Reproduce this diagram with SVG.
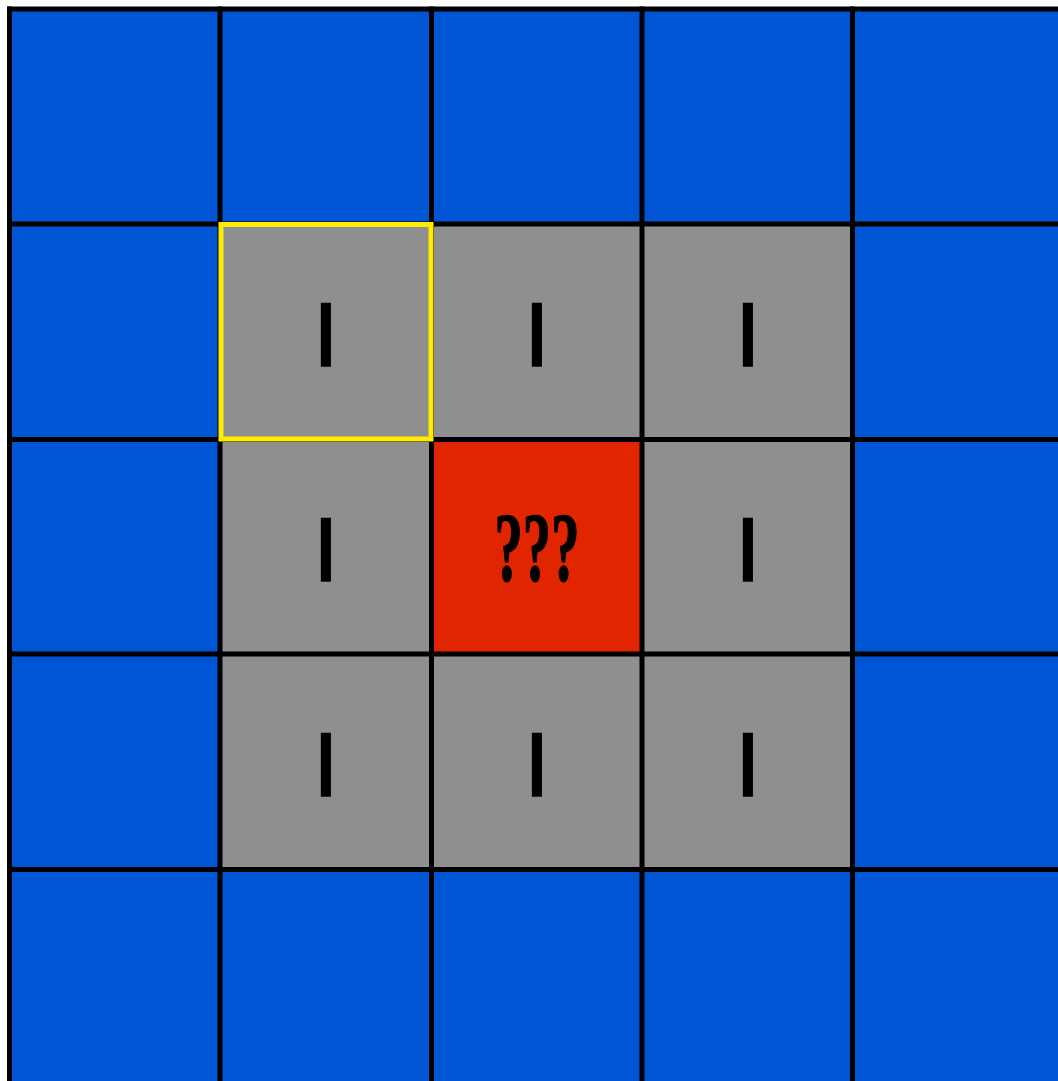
<svg xmlns="http://www.w3.org/2000/svg" width="1058" height="1081" viewBox="0 0 1058 1081">
<style>
.blue{fill:#0055d5}
.gray{fill:#8f8f8f}
.red{fill:#e12500}
.grid line{stroke:#000;stroke-width:5}
.bar{font-family:"Liberation Sans",Arial,sans-serif;font-weight:normal;font-size:91px;fill:#000;stroke:#000;stroke-width:1.6;text-anchor:middle}
.q{font-family:"Liberation Serif","Times New Roman",serif;font-weight:bold;font-size:97px;fill:#000;stroke:#000;stroke-width:1.5;text-anchor:middle}
</style>
<rect width="1058" height="1081" fill="#fff"/>
<g id="row1">
<rect class="blue" x="9.5" y="9" width="211" height="215"/>
<rect class="blue" x="220" y="9" width="211" height="215"/>
<rect class="blue" x="431" y="9" width="211" height="215"/>
<rect class="blue" x="642" y="9" width="211" height="215"/>
<rect class="blue" x="853" y="9" width="211" height="215"/>
</g>
<g id="row2">
<rect class="blue" x="9.5" y="224" width="211" height="215"/>
<g id="cell-r2c2"><rect class="gray" x="220" y="224" width="211" height="215"/><text class="bar" x="326" y="365.5">I</text></g>
<g id="cell-r2c3"><rect class="gray" x="431" y="224" width="211" height="215"/><text class="bar" x="537" y="365.5">I</text></g>
<g id="cell-r2c4"><rect class="gray" x="642" y="224" width="211" height="215"/><text class="bar" x="748" y="365.5">I</text></g>
<rect class="blue" x="853" y="224" width="211" height="215"/>
</g>
<g id="row3">
<rect class="blue" x="9.5" y="439" width="211" height="215"/>
<g id="cell-r3c2"><rect class="gray" x="220" y="439" width="211" height="215"/><text class="bar" x="326" y="580.5">I</text></g>
<g id="cell-center"><rect class="red" x="431" y="439" width="211" height="215"/><text class="q" x="537" y="580" textLength="85" lengthAdjust="spacingAndGlyphs">???</text></g>
<g id="cell-r3c4"><rect class="gray" x="642" y="439" width="211" height="215"/><text class="bar" x="748" y="580.5">I</text></g>
<rect class="blue" x="853" y="439" width="211" height="215"/>
</g>
<g id="row4">
<rect class="blue" x="9.5" y="654" width="211" height="215"/>
<g id="cell-r4c2"><rect class="gray" x="220" y="654" width="211" height="215"/><text class="bar" x="326" y="795.5">I</text></g>
<g id="cell-r4c3"><rect class="gray" x="431" y="654" width="211" height="215"/><text class="bar" x="537" y="795.5">I</text></g>
<g id="cell-r4c4"><rect class="gray" x="642" y="654" width="211" height="215"/><text class="bar" x="748" y="795.5">I</text></g>
<rect class="blue" x="853" y="654" width="211" height="215"/>
</g>
<g id="row5">
<rect class="blue" x="9.5" y="869" width="211" height="215"/>
<rect class="blue" x="220" y="869" width="211" height="215"/>
<rect class="blue" x="431" y="869" width="211" height="215"/>
<rect class="blue" x="642" y="869" width="211" height="215"/>
<rect class="blue" x="853" y="869" width="211" height="215"/>
</g>
<g class="grid" id="grid">
<line x1="9.5" y1="6.5" x2="9.5" y2="1081"/>
<line x1="220" y1="6.5" x2="220" y2="1081"/>
<line x1="431.5" y1="6.5" x2="431.5" y2="1081"/>
<line x1="642" y1="6.5" x2="642" y2="1081"/>
<line x1="852.5" y1="6.5" x2="852.5" y2="1081"/>
<line x1="7" y1="9" x2="1058" y2="9"/>
<line x1="7" y1="224" x2="1058" y2="224"/>
<line x1="7" y1="439.5" x2="1058" y2="439.5"/>
<line x1="7" y1="654" x2="1058" y2="654"/>
<line x1="7" y1="869.5" x2="1058" y2="869.5"/>
</g>
<rect id="highlight" x="221" y="224.5" width="210" height="214.5" fill="none" stroke="#ffeb00" stroke-width="5"/>
</svg>
